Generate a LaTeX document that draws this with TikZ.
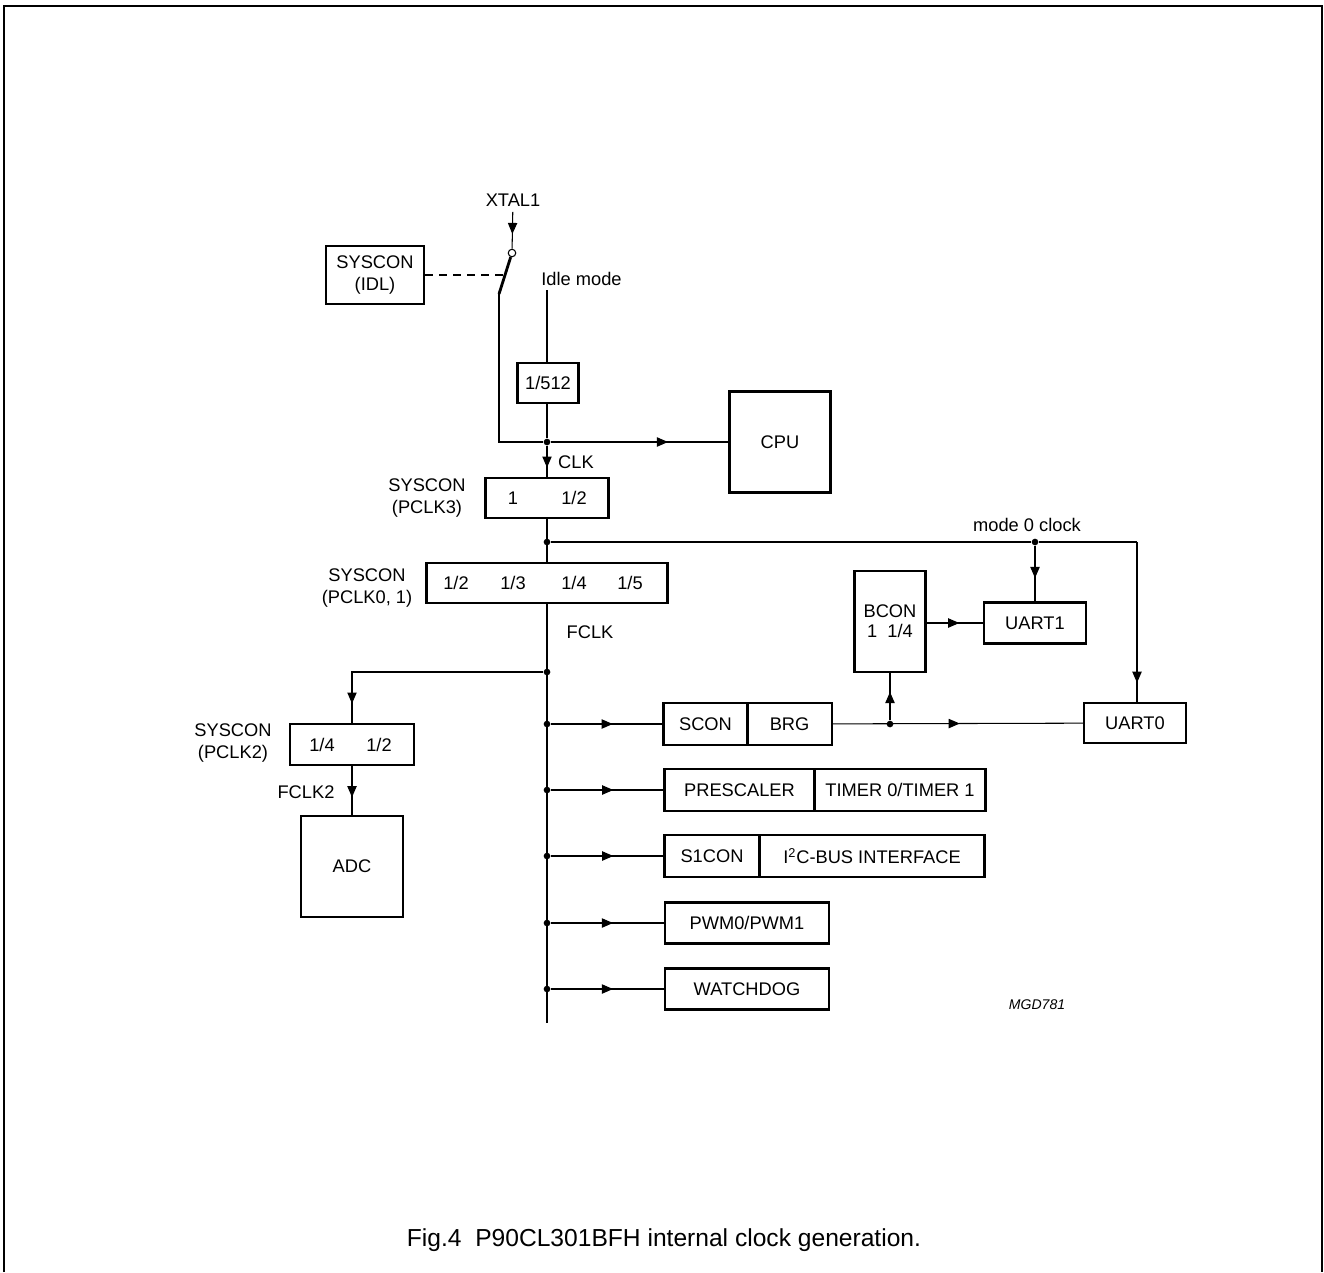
\documentclass[tikz,border=0pt]{standalone}
\usepackage{fontspec}
\setmainfont{Liberation Sans}
\usetikzlibrary{arrows.meta,positioning,decorations.markings}

\newcommand{\dgfont}{\fontsize{10.4}{13}\selectfont}

\tikzset{
  wire/.style={line width=0.6pt},
  frm/.style={line width=1.2pt},
  blk/.style={draw, line width=1.2pt, inner sep=0pt, align=center, font=\dgfont},
  cell/.style={draw, line width=0.6pt, inner sep=0pt, minimum height=0.82cm, font=\dgfont},
  lbl/.style={inner sep=0pt, align=center, font=\dgfont},
  dot/.style={circle, fill, inner sep=0pt, minimum size=3.8pt},
  marr/.style={postaction={decorate}, decoration={markings,
      mark=at position #1 with {\arrow{Triangle[length=6.3pt,width=5.3pt]}}}},
  marr/.default=0.5
}

\begin{document}
\begin{tikzpicture}[x=0.02cm,y=-0.02cm]
    \useasboundingbox (0,0) rectangle (1324,1272);
    % outer frame
    \draw[line width=1pt] (4,1272) -- (4,6) -- (1322,6) -- (1322,1272);

    % Oscillator input and idle switch
    \node[lbl, inner sep=3pt] (xtal) at (513,200) {XTAL1};
    \node[draw, circle, inner sep=0pt, minimum size=0.15cm, line width=0.6pt] (sw) at (512,253) {};
    \coordinate (swb) at (499,294);
    \coordinate (swm) at (503,275);
    \node[blk, minimum width=1.96cm, minimum height=1.16cm] (idl) at (375,275) {SYSCON\\(IDL)};
    \draw[wire, marr=0.6] (xtal) -- (sw);
    \draw[line width=1.6pt] (sw.-108) -- (swb);
    \draw[wire, dash pattern=on 4.5pt off 3.5pt] (idl.east) -- (swm);

    % Idle mode divider
    \node[lbl, anchor=west] (idle) at (541,279) {Idle mode};
    \coordinate (idtop) at (547,290);
    \node[blk, minimum width=1.22cm, minimum height=0.8cm] (d512) at (548,383) {1/512};
    \draw[wire] (idtop) -- (idtop |- d512.north);

    % CLK node and CPU
    \node[dot] (jclk) at (547,442) {};
    \draw[wire] (swb) |- (jclk);
    \draw[wire] (jclk |- d512.south) -- (jclk);
    \node[blk, minimum size=2.02cm] (cpu) at (780,442) {CPU};
    \draw[wire, marr=0.66] (jclk) -- (cpu);

    % SYSCON PCLK3
    \node[blk, minimum width=2.46cm, minimum height=0.8cm] (pclk3) at (547,498) {};
    \node[lbl] (p3a) at (513,498) {1};
    \node[lbl] (p3b) at (574,498) {1/2};
    \node[lbl] (p3n) at (427,498) {SYSCON\\(PCLK3)};
    \node[lbl] (clk) at (576,462) {CLK};
    \draw[wire, marr=0.7] (jclk) -- (pclk3);

    % SYSCON PCLK0, 1
    \node[blk, minimum width=4.82cm, minimum height=0.8cm] (pclk01) at (547,583) {};
    \node[lbl] (p01a) at (456,583) {1/2};
    \node[lbl] (p01b) at (513,583) {1/3};
    \node[lbl] (p01c) at (574,583) {1/4};
    \node[lbl] (p01d) at (630,583) {1/5};
    \node[lbl] (p01n) at (367,588) {SYSCON\\(PCLK0, 1)};
    \node[dot] (jm0) at (547,542) {};
    \draw[wire] (pclk3) -- (pclk01);

    % FCLK bus
    \node[lbl] (fclk) at (590,632) {FCLK};
    \coordinate (busend) at (547,1023);
    \draw[wire] (pclk01) -- (busend);
    \node[dot] (jadc) at (547,672) {};
    \node[dot] (j1) at (547,724) {};
    \node[dot] (j2) at (547,790) {};
    \node[dot] (j3) at (547,856) {};
    \node[dot] (j4) at (547,923) {};
    \node[dot] (j5) at (547,989) {};

    % ADC branch
    \node[blk, minimum width=2.48cm, minimum height=0.82cm] (pclk2) at (352,744.5) {};
    \node[lbl] (p2a) at (322,745) {1/4};
    \node[lbl] (p2b) at (379,745) {1/2};
    \node[lbl] (p2n) at (233,743) {SYSCON\\(PCLK2)};
    \node[lbl] (fclk2) at (306,792) {FCLK2};
    \node[blk, minimum size=2.03cm] (adc) at (352,866.5) {ADC};
    \draw[wire, marr=0.92] (jadc) -| (pclk2);
    \draw[wire, marr=0.64] (pclk2) -- (adc);

    % peripherals on FCLK
    \node[cell, minimum width=1.66cm] (scon) at (705.5,724) {SCON};
    \node[cell, minimum width=1.66cm, right=0pt of scon] (brg) {BRG};
    \draw[frm] (scon.north west) rectangle (brg.south east);

    \node[cell, minimum width=2.98cm] (presc) at (739.5,790) {PRESCALER};
    \node[cell, minimum width=3.4cm, right=0pt of presc] (tmr) {TIMER 0/TIMER 1};
    \draw[frm] (presc.north west) rectangle (tmr.south east);

    \node[cell, minimum width=1.88cm] (s1con) at (712,856) {S1CON};
    \node[cell, minimum width=4.48cm, right=0pt of s1con] (iic) {I\textsuperscript{2}C-BUS INTERFACE};
    \draw[frm] (s1con.north west) rectangle (iic.south east);

    \node[blk, minimum width=3.28cm, minimum height=0.82cm] (pwm) at (747,923) {PWM0/PWM1};
    \node[blk, minimum width=3.28cm, minimum height=0.82cm] (wdog) at (747,989) {WATCHDOG};

    \draw[wire, marr=0.55] (j1) -- (scon);
    \draw[wire, marr=0.55] (j2) -- (presc);
    \draw[wire, marr=0.55] (j3) -- (s1con);
    \draw[wire, marr=0.55] (j4) -- (pwm);
    \draw[wire, marr=0.55] (j5) -- (wdog);

    % serial ports
    \node[blk, minimum width=1.42cm, minimum height=2.02cm] (bcon) at (890,621.5) {BCON\\[-1.5pt]1\ \ 1/4};
    \node[blk, minimum width=2.04cm, minimum height=0.82cm] (uart1) at (1035,623) {UART1};
    \node[blk, minimum width=2.04cm, minimum height=0.8cm] (uart0) at (1135,723) {UART0};
    \node[dot] (jbrg) at (890,724) {};
    \node[dot] (ju1) at (1035,542) {};
    \coordinate (m0c) at (1137,542);
    \node[lbl] (m0lbl) at (1027,525) {mode 0 clock};
    \draw[wire] (jm0) -- (ju1) -- (m0c);
    \draw[wire, marr=0.88] (m0c) -- (m0c |- uart0.north);
    \draw[wire, marr=0.58] (ju1) -- (uart1);
    \draw[wire, marr=0.51] (brg) -- (uart0);
    \draw[wire, marr=0.6] (jbrg) -- (bcon);
    \draw[wire, marr=0.58] (bcon.east |- uart1.west) -- (uart1.west);

    % figure code and caption
    \node[font=\fontsize{8}{9}\selectfont\itshape] (mgd) at (1037,1005) {MGD781};
    \node[font=\fontsize{14}{16}\selectfont] (cap) at (664,1240) {Fig.4\ \ P90CL301BFH internal clock generation.};
\end{tikzpicture}
\end{document}
